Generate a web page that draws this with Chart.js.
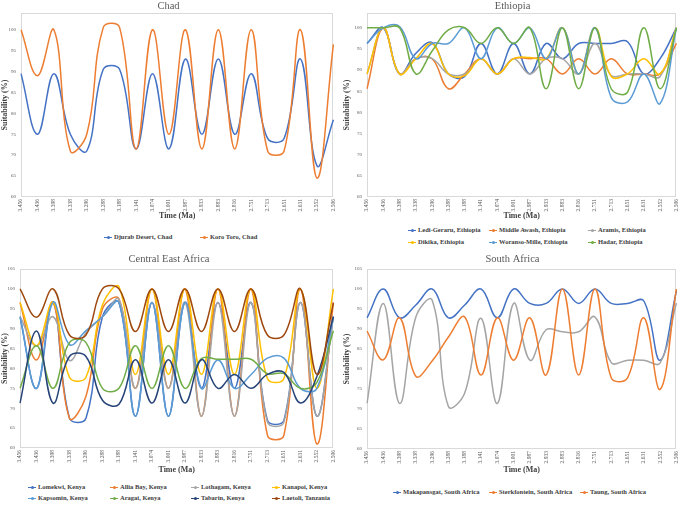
<!DOCTYPE html>
<html>
<head>
<meta charset="utf-8">
<script src="https://cdn.jsdelivr.net/npm/chart.js@4.4.1/dist/chart.umd.min.js"></script>
<style>
  body { margin: 0; background: #fff; width: 685px; height: 506px; position: relative; overflow: hidden; font-family: "Liberation Serif", serif; }
  canvas { position: absolute; }
  .leg { position: absolute; font-weight: bold; font-size: 6.5px; color: #404040; white-space: nowrap; line-height: 8px; }
  .leg i { display: inline-block; position: relative; width: 8px; height: 1.4px; vertical-align: middle; margin-right: 2px; }
  .leg i b { position: absolute; left: 2.6px; top: -0.9px; width: 3px; height: 3px; border-radius: 50%; }
</style>
</head>
<body>
<script>
// time slices (Ma), shared by all four panels
const timeLabels = ["3.456","3.436","3.398","3.338","3.296","3.288","3.188","3.141","3.074","3.001",
                    "2.987","2.933","2.883","2.816","2.751","2.713","2.651","2.631","2.552","2.506"];

// Chad
const djurabDesert = [89.5, 75, 89.5, 75, 71, 90.5, 90.5, 71.5, 89.5, 71.5, 93, 75, 93, 75, 89.5, 74, 74, 93, 67.5, 78.5];
const koroToro     = [100, 89, 100, 71, 75, 100.5, 100.5, 71.5, 100, 75, 100, 71.5, 100, 71.5, 100, 71, 71, 100, 64.5, 96.5];

// Ethiopia
const lediGeraru   = [96.3, 100, 89.1, 94, 96.5, 89.1, 88.5, 96.3, 89.1, 96.3, 89.1, 96.3, 92.7, 96.3, 96.3, 96.3, 96.7, 89.1, 92.7, 100];
const middleAwash  = [85.6, 100, 89.1, 92.7, 92.7, 85.6, 89.1, 92.7, 89.1, 92.7, 92.7, 92.7, 89.1, 92.7, 89.1, 92.7, 89.1, 89.1, 89.1, 96.3];
const aramis       = [89.1, 100, 89.1, 92.7, 92.7, 89.1, 89.1, 92.7, 89.1, 92.7, 89.1, 92.7, 92.7, 89.1, 96.3, 88.7, 89.1, 89.1, 88.5, 100];
const dikika       = [89.1, 100, 89.1, 92.7, 96.3, 89.1, 88.7, 92.7, 89.1, 92.7, 93, 92.7, 100, 89.1, 100, 88.5, 89.1, 92.7, 89.1, 100];
const woransoMille = [96.3, 100, 100.3, 92.7, 96.3, 96.3, 100, 92.7, 100, 96.3, 100, 92.7, 100, 89.1, 100, 83.5, 82.5, 89.1, 82.1, 100];
const hadar        = [100, 100, 100, 89.1, 94.5, 99.5, 100, 96.3, 100, 96.3, 100, 85.6, 100, 85.6, 100, 85.6, 84.8, 100, 85.6, 100];

// Central East Africa
const lomekwi   = [93, 75, 96.6, 67.5, 67.5, 93, 96.6, 68, 96.6, 68, 96.6, 75, 96.6, 75, 96.6, 67, 67, 96.6, 68, 93];
const alliaBay  = [96.6, 82.1, 96.6, 67.5, 73, 95, 97.5, 75, 100, 75, 100, 68, 100, 68, 100, 63.2, 63.2, 100, 61, 96.6];
const lothagam  = [93, 85.7, 93, 82, 89, 93, 97.3, 75, 96.6, 75, 96.6, 68, 96.6, 68, 96.6, 66.5, 66.5, 96.6, 68, 93];
const kanapoi   = [96.6, 85.7, 96.6, 77.8, 77.8, 96, 100.5, 78.5, 100, 78.5, 100, 78.5, 100, 78.5, 100, 77.5, 77.5, 100, 75, 100];
const kapsomin  = [93, 75, 96.6, 86, 89.5, 93, 96.6, 68, 96.6, 68, 96.6, 75, 82.1, 75, 78.4, 82.6, 82.6, 75, 75, 93];
const aragai    = [75, 85.7, 75, 86.5, 86.5, 75, 75, 85.7, 75, 85.7, 75, 82.5, 82.3, 82.3, 82.3, 78.7, 78.7, 75, 76.5, 89.5];
const tabarin   = [71.3, 89.4, 71.3, 83, 83, 72, 71, 82.2, 71.3, 82.2, 71.3, 82.2, 75, 78.5, 75, 78.5, 79, 71.3, 78, 93];
const laetoli   = [100, 92.9, 100, 88.4, 88.4, 100, 100, 89.3, 100, 89.3, 100, 89.3, 100, 89.3, 100, 88.4, 88.4, 100, 78.5, 96.5];

// South Africa
const makapansgat  = [92.8, 100, 92.8, 96, 100, 92.8, 96, 100, 92.8, 100, 96.4, 96.4, 100, 96.4, 100, 96.4, 96.4, 97, 82.2, 99.5];
const sterkfontein = [71.4, 96.4, 71.4, 93, 97.2, 70.6, 74, 92.7, 71.4, 96.4, 82.2, 89.8, 89.3, 89.3, 93, 81.6, 82.2, 82.2, 81.5, 96.5];
const taung        = [89.5, 82.3, 92.8, 78.2, 82, 88, 93, 78.5, 92.8, 82.2, 92.8, 78.5, 100, 78.5, 100, 77.8, 77.8, 92.8, 74.9, 100];

const SERIF = '"Liberation Serif", "Times New Roman", serif';

// light grey frame round the plot area
const plotBox = {
  id: 'plotBox',
  beforeDatasetsDraw(chart) {
    const a = chart.chartArea, c = chart.ctx;
    c.save();
    c.strokeStyle = '#D9D9D9';
    c.lineWidth = 1;
    c.strokeRect(Math.round(a.left) + 0.5, Math.round(a.top) + 0.5, Math.round(a.right - a.left) - 1, Math.round(a.bottom - a.top) - 1);
    c.restore();
  }
};

function makePanel(p) {
  const canvas = document.createElement('canvas');
  canvas.width = p.box[2];
  canvas.height = p.box[3];
  canvas.style.left = p.box[0] + 'px';
  canvas.style.top = p.box[1] + 'px';
  document.body.appendChild(canvas);

  // sizes so that the plot area lands on p.plot = [left, top, right, bottom] (page px)
  const titleH = p.plot[1] - p.box[1];
  const yW = p.plot[0] - p.box[0];
  const padR = p.box[0] + p.box[2] - p.plot[2];
  const xH = p.box[1] + p.box[3] - p.plot[3];

  const datasets = p.series.map((s, i) => ({
    label: s.name,
    data: s.data,
    borderColor: s.color,
    backgroundColor: s.color,
    order: -i
  }));

  const chart = new Chart(canvas.getContext('2d'), {
    type: 'line',
    data: { labels: timeLabels, datasets: datasets },
    options: {
      responsive: false,
      animation: false,
      devicePixelRatio: 1,
      layout: { padding: { left: 0, top: 0, right: padR, bottom: 0 } },
      elements: {
        line: { tension: 0.4, borderWidth: 1.5 },
        point: { radius: 0 }
      },
      plugins: {
        legend: { display: false },
        tooltip: { enabled: false },
        title: {
          display: true, text: p.title, color: '#595959', padding: 0,
          font: { family: SERIF, size: 10.5, weight: 'normal', lineHeight: titleH + 'px' }
        }
      },
      scales: {
        x: {
          grid: { display: false, drawTicks: false },
          border: { display: false },
          ticks: { autoSkip: false, minRotation: 90, maxRotation: 90, padding: 2, color: '#595959', font: { family: SERIF, size: 5.5 } },
          title: { display: true, text: 'Time (Ma)', color: '#404040', padding: 0, font: { family: SERIF, size: 8, weight: 'bold' } },
          afterFit(s) { s.height = xH; }
        },
        y: {
          min: 60, max: p.yMax,
          grid: { display: false, drawTicks: false },
          border: { display: false },
          ticks: { stepSize: 5, padding: 5, color: '#595959', font: { family: SERIF, size: 5 } },
          title: { display: true, text: 'Suitability (%)', color: '#404040', padding: 0, font: { family: SERIF, size: 8, weight: 'bold' } },
          afterBuildTicks(s) { s.ticks = s.ticks.filter(t => t.value % 5 === 0); },
          afterFit(s) { s.width = yW; }
        }
      }
    },
    plugins: [plotBox]
  });

  // legend laid out in a grid like the original
  chart.data.datasets.forEach((ds, i) => {
    const pos = p.legend[i];
    const col = (p.legendColors && p.legendColors[i]) || ds.borderColor;
    const d = document.createElement('div');
    d.className = 'leg';
    d.style.left = pos[0] + 'px';
    d.style.top = (pos[1] - 4) + 'px';
    d.innerHTML = '<i style="background:' + col + '"><b style="background:' + col + '"></b></i>' + ds.label;
    document.body.appendChild(d);
  });
}

const BLUE = '#4472C4', ORANGE = '#ED7D31', GREY = '#A5A5A5', YELLOW = '#FFC000',
      LBLUE = '#5B9BD5', GREEN = '#70AD47', NAVY = '#264478', BROWN = '#9E480E';

makePanel({
  title: 'Chad', box: [0, 0, 342, 221], plot: [21, 13, 337, 197], yMax: 104,
  series: [
    { name: 'Djurab Desert, Chad', data: djurabDesert, color: BLUE },
    { name: 'Koro Toro, Chad', data: koroToro, color: ORANGE }
  ],
  legend: [[104, 237], [200, 237]]
});

makePanel({
  title: 'Ethiopia', box: [342, 0, 343, 221], plot: [367, 13, 683, 197], yMax: 103.5,
  series: [
    { name: 'Ledi-Geraru, Ethiopia', data: lediGeraru, color: BLUE },
    { name: 'Middle Awash, Ethiopia', data: middleAwash, color: ORANGE },
    { name: 'Aramis, Ethiopia', data: aramis, color: GREY },
    { name: 'Dikika, Ethiopia', data: dikika, color: YELLOW },
    { name: 'Woranso-Mille, Ethiopia', data: woransoMille, color: LBLUE },
    { name: 'Hadar, Ethiopia', data: hadar, color: GREEN }
  ],
  legend: [[408, 230], [489, 230], [588, 230], [408, 242], [489, 242], [588, 242]]
});

makePanel({
  title: 'Central East Africa', box: [0, 250, 342, 225], plot: [20, 269, 338, 448], yMax: 105,
  series: [
    { name: 'Lomekwi, Kenya', data: lomekwi, color: BLUE },
    { name: 'Allia Bay, Kenya', data: alliaBay, color: ORANGE },
    { name: 'Lothagam, Kenya', data: lothagam, color: GREY },
    { name: 'Kanapoi, Kenya', data: kanapoi, color: YELLOW },
    { name: 'Kapsomin, Kenya', data: kapsomin, color: LBLUE },
    { name: 'Aragai, Kenya', data: aragai, color: GREEN },
    { name: 'Tabarin, Kenya', data: tabarin, color: NAVY },
    { name: 'Laetoli, Tanzania', data: laetoli, color: BROWN }
  ],
  legend: [[28, 487], [110, 487], [191, 487], [272, 487], [28, 498], [110, 498], [191, 498], [272, 498]]
});

makePanel({
  title: 'South Africa', box: [342, 250, 343, 225], plot: [367, 269, 683, 449], yMax: 105,
  series: [
    { name: 'Makapansgat, South Africa', data: makapansgat, color: BLUE },
    { name: 'Sterkfontein, South Africa', data: sterkfontein, color: GREY },
    { name: 'Taung, South Africa', data: taung, color: ORANGE }
  ],
  legendColors: [BLUE, ORANGE, ORANGE],
  legend: [[393, 492], [489, 492], [580, 492]]
});
</script>
</body>
</html>
